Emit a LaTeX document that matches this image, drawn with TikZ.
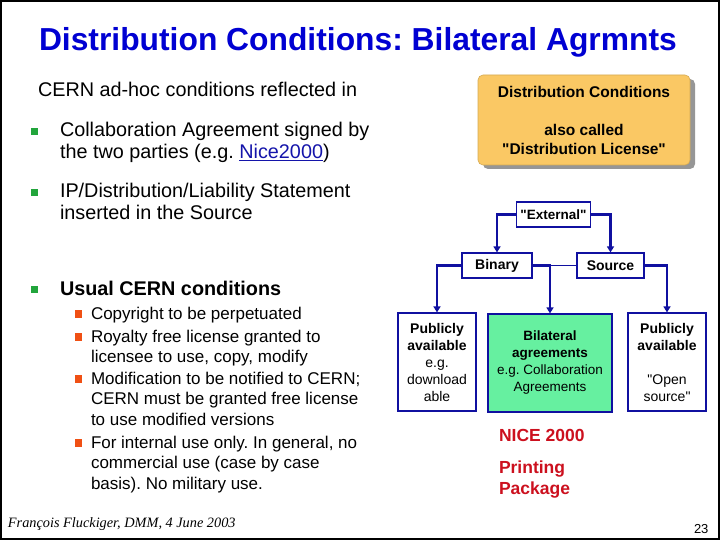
\documentclass[tikz,border=0pt]{standalone}
\usepackage{fontspec}
\setmainfont{Liberation Sans}[Ligatures=TeXOff]
\newfontfamily\footfont{Liberation Serif}
\usetikzlibrary{arrows.meta}
\definecolor{titleblue}{RGB}{0,0,210}
\definecolor{lineblue}{RGB}{16,16,160}
\definecolor{linkblue}{RGB}{20,20,170}
\definecolor{bulgreen}{RGB}{34,165,60}
\definecolor{bulred}{RGB}{240,80,20}
\definecolor{dcorange}{RGB}{250,200,100}
\definecolor{dcshadow}{RGB}{150,150,150}
\definecolor{bilgreen}{RGB}{102,240,160}
\definecolor{nicered}{RGB}{204,16,30}
\newcommand{\fsz}[2]{\fontsize{#1}{#2}\selectfont}
\newcommand{\mylines}[1]{\begin{tabular}[t]{@{}l@{}}#1\end{tabular}}
\frenchspacing
\tikzset{
  x=1pt, y=-1pt,
  txt/.style={anchor=base west, inner sep=0pt, outer sep=0pt},
  mainline/.style={txt, font=\fsz{19.8}{21.5}},
  subline/.style={txt, font=\fsz{17}{20.5}},
  mainbul/.style={fill=bulgreen, minimum size=7.5pt, inner sep=0pt},
  subbul/.style={fill=bulred, minimum size=7.5pt, inner sep=0pt},
  flowbox/.style={draw=lineblue, line width=1.2pt, fill=white, inner sep=0pt, align=center},
  conn/.style={draw=lineblue, line width=2.6pt, -{Triangle[width=7pt,length=6pt]}},
  thinconn/.style={draw=lineblue, line width=1pt},
  redtxt/.style={txt, font=\fsz{17.5}{21}\bfseries, text=nicered},
}
\begin{document}
\begin{tikzpicture}
\useasboundingbox (0,0) rectangle (720,540);
\draw[black, line width=2pt] (1,1) rectangle (719,539);

% title
\node[txt, font=\fsz{31.8}{36}\bfseries, text=titleblue] (title) at (39,51) {Distribution Conditions: Bilateral Agrmnts};

% left column
\node[mainline] (intro) at (38,97) {CERN ad-hoc conditions reflected in};
\node[mainbul] (bu1) at (34.5,131.5) {};
\node[mainline] (item1) at (60,137) {\mylines{Collaboration Agreement signed by\\the two parties (e.g. {\color{linkblue}\underline{Nice2000}})}};
\node[mainbul] (bu2) at (34.5,192.5) {};
\node[mainline] (item2) at (60,198) {\mylines{IP/Distribution/Liability Statement\\inserted in the Source}};
\node[mainbul] (bu3) at (34.5,289.5) {};
\node[mainline, font=\fsz{19.8}{21.5}\bfseries] (item3) at (60,295) {Usual CERN conditions};

\node[subbul] (sb1) at (78.5,314) {};
\node[subline] (sub1) at (91,319) {Copyright to be perpetuated};
\node[subbul] (sb2) at (78.5,337) {};
\node[subline] (sub2) at (91,342) {\mylines{Royalty free license granted to\\licensee to use, copy, modify}};
\node[subbul] (sb3) at (78.5,379) {};
\node[subline] (sub3) at (91,384) {\mylines{Modification to be notified to CERN;\\CERN must be granted free license\\to use modified versions}};
\node[subbul] (sb4) at (78.5,443) {};
\node[subline] (sub4) at (91,448) {\mylines{For internal use only. In general, no\\commercial use (case by case\\basis). No military use.}};

% orange box
\fill[dcshadow, rounded corners=5pt] (483,79) rectangle (695,169);
\node[draw=dcorange!85!black, line width=0.6pt, fill=dcorange, rounded corners=5pt,
      minimum width=212pt, minimum height=90pt, inner sep=0pt, align=center,
      font=\fsz{15.5}{19}\bfseries] (dc) at (584,120)
  {Distribution Conditions\\[19pt]also called\\"Distribution License"};

% flow
\node[flowbox, minimum width=74pt, minimum height=25pt, font=\fsz{13.5}{16}\bfseries] (ext) at (553.5,214.5) {"External"};
\node[flowbox, minimum width=70pt, minimum height=25pt, font=\fsz{14}{16}\bfseries] (bin) at (497,265.5) {Binary};
\node[flowbox, minimum width=67pt, minimum height=25pt, font=\fsz{14}{16}\bfseries] (src) at (610.5,265.5) {Source};
\node[flowbox, minimum width=78pt, minimum height=98pt, font=\fsz{14}{17}] (pub1) at (437,362)
  {\textbf{Publicly}\\\textbf{available}\\e.g.\\download\\able};
\node[flowbox, fill=bilgreen, minimum width=124pt, minimum height=98pt, font=\fsz{13.5}{17}] (bil) at (550,363)
  {\textbf{Bilateral}\\\textbf{agreements}\\e.g. Collaboration\\Agreements};
\node[flowbox, minimum width=78pt, minimum height=98pt, font=\fsz{14}{17}] (pub2) at (667,362)
  {\textbf{Publicly}\\\textbf{available}\\\mbox{}\\"Open\\source"};

\coordinate (join) at (bil.north |- src.west);
\draw[thinconn] (src.west) -- (join);
\draw[conn] (ext.west) -| (bin.north);
\draw[conn] (ext.east) -| (src.north);
\draw[conn] (bin.west) -| (pub1.north);
\draw[conn] (bin.east) -| (bil.north);
\draw[conn] (src.east) -| (pub2.north);

% red notes
\node[redtxt] (nice) at (499,441) {NICE 2000};
\node[redtxt] (print) at (499,473) {\mylines{Printing\\Package}};

% footer
\node[txt, font=\footfont\itshape\fsz{14.3}{16}] (foot) at (8,527) {François Fluckiger, DMM, 4 June 2003};
\node[txt, font=\fsz{13}{15}] (page) at (694,533) {23};
\end{tikzpicture}
\end{document}
